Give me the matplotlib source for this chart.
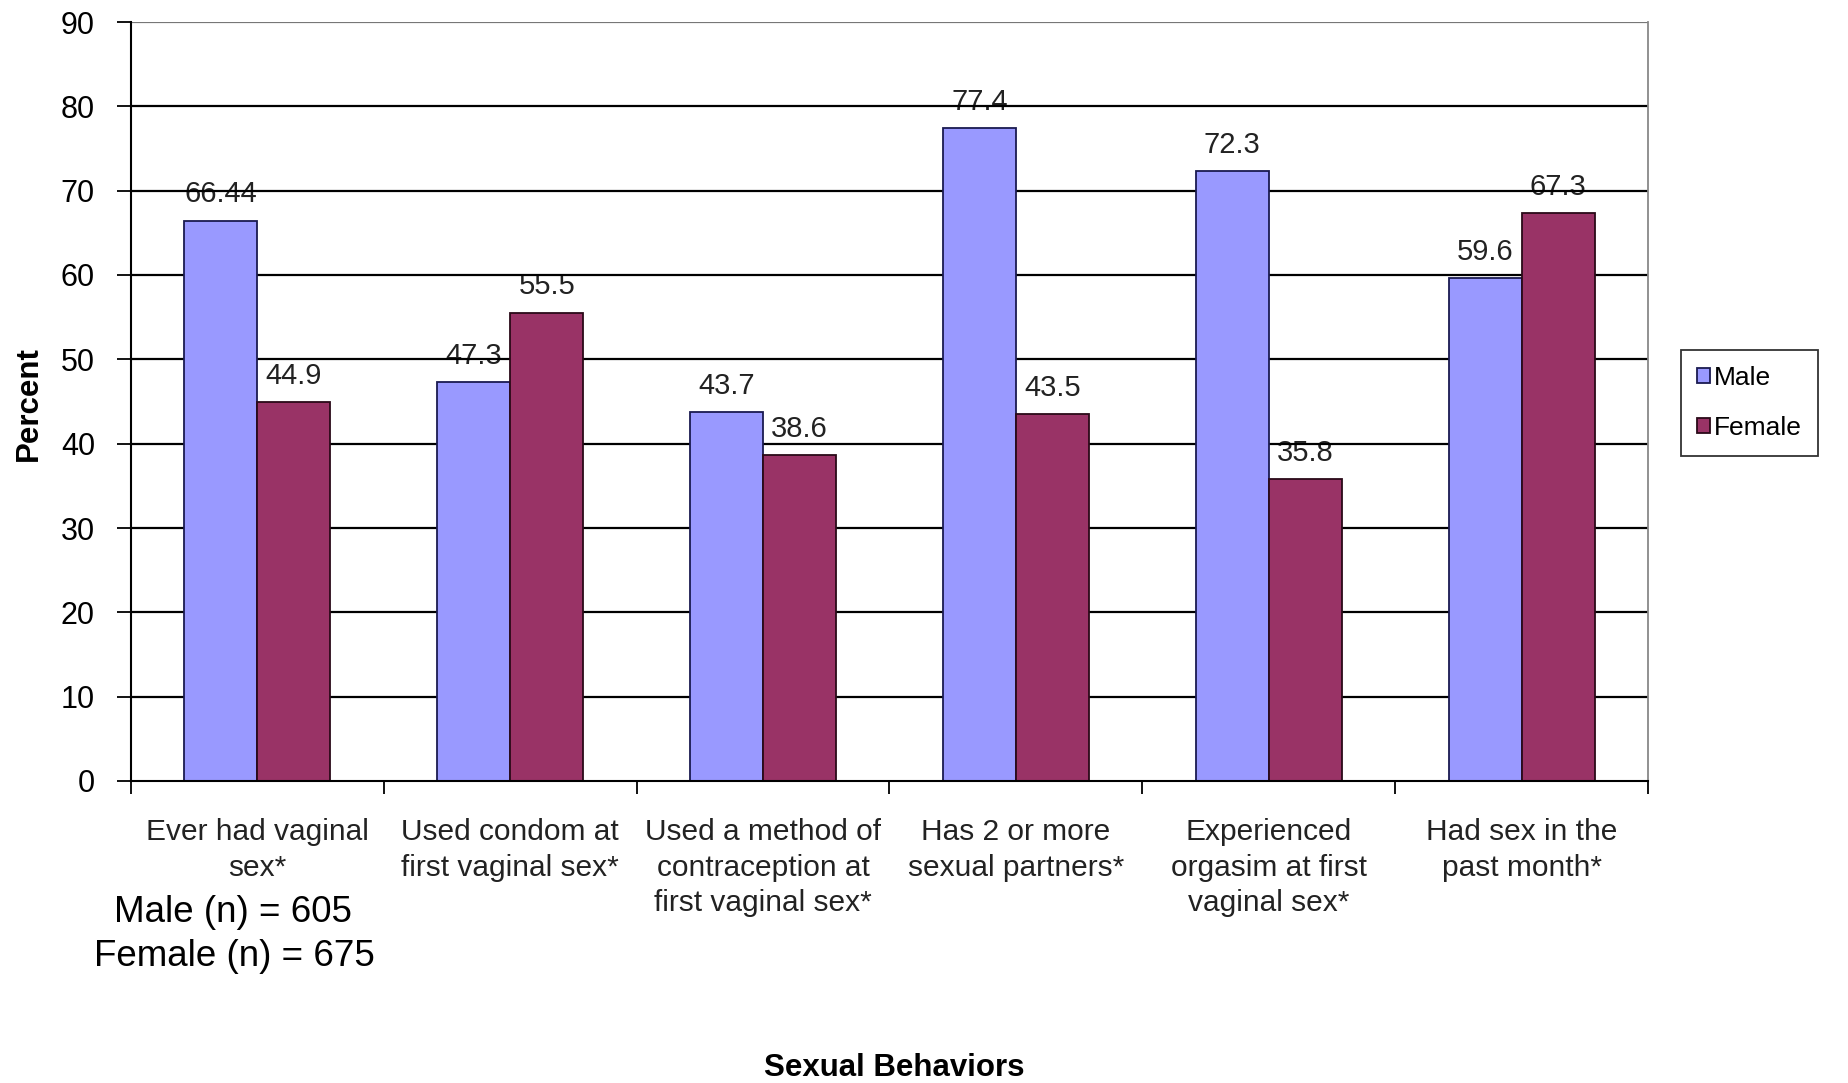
import matplotlib.pyplot as plt
import numpy as np

# data
categories = [
    "Ever had vaginal\nsex*",
    "Used condom at\nfirst vaginal sex*",
    "Used a method of\ncontraception at\nfirst vaginal sex*",
    "Has 2 or more\nsexual partners*",
    "Experienced\norgasim at first\nvaginal sex*",
    "Had sex in the\npast month*",
]
male = [66.44, 47.3, 43.7, 77.4, 72.3, 59.6]
female = [44.9, 55.5, 38.6, 43.5, 35.8, 67.3]
male_labels = ["66.44", "47.3", "43.7", "77.4", "72.3", "59.6"]
female_labels = ["44.9", "55.5", "38.6", "43.5", "35.8", "67.3"]
y_ticks = [0, 10, 20, 30, 40, 50, 60, 70, 80, 90]

plt.rcParams['font.family'] = ['Liberation Sans', 'DejaVu Sans']

W, H = 1849, 1083
fig = plt.figure(figsize=(W / 100, H / 100), dpi=100)
ax = fig.add_axes([131 / W, 1 - 781 / H, (1648 - 131) / W, (781 - 22) / H])

x = np.arange(len(categories))
w = 0.289

b1 = ax.bar(x - w / 2, male, w, color='#9999FF', edgecolor='#1a1a50', linewidth=1.3,
            label='Male', zorder=2)
b2 = ax.bar(x + w / 2, female, w, color='#993366', edgecolor='#2a0a18', linewidth=1.3,
            label='Female', zorder=2)

# labels sit under the gridlines, like the original
for xi, v, t in zip(x - w / 2, male, male_labels):
    ax.annotate(t, (xi, v), xytext=(0, 9), textcoords='offset points',
                ha='center', va='bottom', fontsize=21, color='#222222', zorder=0.3)
for xi, v, t in zip(x + w / 2, female, female_labels):
    ax.annotate(t, (xi, v), xytext=(0, 9), textcoords='offset points',
                ha='center', va='bottom', fontsize=21, color='#222222', zorder=0.3)

for yv in y_ticks[1:]:
    ax.axhline(yv, color='black' if yv < 90 else '#777777', lw=1.6, zorder=1)

ax.set_xlim(-0.5, len(categories) - 0.5)
ax.set_ylim(0, 90)
ax.set_yticks(y_ticks)
ax.tick_params(axis='y', length=10, width=1.3, pad=16, labelsize=22, colors='black')

# category labels at centers, ticks at group boundaries
ax.set_xticks(np.arange(-0.5, len(categories), 1.0))
ax.set_xticklabels([])
ax.tick_params(axis='x', which='major', length=9, width=1.3, direction='out')
ax.set_xticks(x, minor=True)
ax.set_xticklabels(categories, minor=True, fontsize=21.5, color='#222222',
                   linespacing=1.33)
ax.tick_params(axis='x', which='minor', length=0, pad=27)

ax.spines['top'].set_visible(False)
ax.spines['right'].set_color('#888888')
ax.spines['right'].set_linewidth(1.3)
ax.spines['left'].set_linewidth(1.5)
ax.spines['bottom'].set_linewidth(1.5)

fig.text(29 / W, 1 - 404 / H, "Percent", rotation=90, ha='center', va='center',
         fontsize=22.5, fontweight='bold')
fig.text(894 / W, 1 - 1068 / H, "Sexual Behaviors", ha='center', va='center',
         fontsize=22.5, fontweight='bold')

fig.text(233 / W, 1 - 912 / H, "Male (n) = 605", ha='center', va='center',
         fontsize=26.5)
fig.text(234 / W, 1 - 957 / H, "Female (n) = 675", ha='center', va='center',
         fontsize=26.5)

leg = fig.legend(handles=[b1, b2], loc='center left',
                 bbox_to_anchor=(1681 / W, 1 - 403 / H), fontsize=19,
                 frameon=True, fancybox=False, shadow=False,
                 handlelength=0.5, handleheight=0.5, handletextpad=0.15,
                 labelspacing=1.0, borderpad=0.6, borderaxespad=0)
leg.get_frame().set_edgecolor('black')
leg.get_frame().set_linewidth(1.3)

fig.savefig("out.png", dpi=100)
